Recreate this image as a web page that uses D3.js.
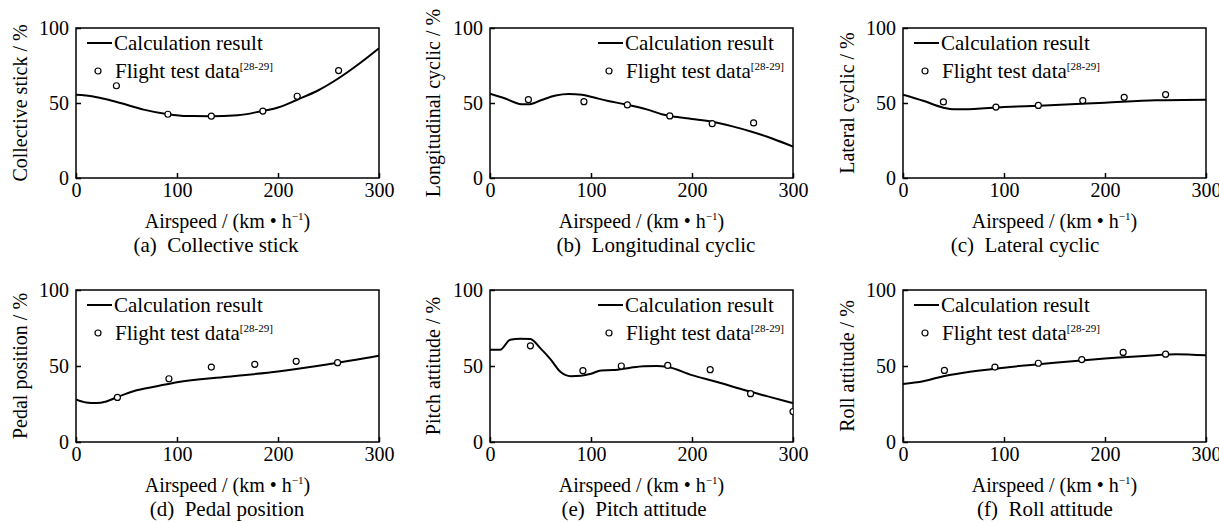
<!DOCTYPE html>
<html>
<head>
<meta charset="utf-8">
<script src="https://cdn.jsdelivr.net/npm/d3@7/dist/d3.min.js"></script>
<style>
  body { margin: 0; background: #fff; }
  svg { display: block; }
  svg text { font-family: "Liberation Serif", "Times New Roman", serif; fill: #000; }
</style>
</head>
<body>
<div id="chart"></div>
<script>
// Tick values shared by all six panels
const xTicks = [0, 100, 200, 300];
const yTicks = [0, 50, 100];

const panelCaptions = ["(a)  Collective stick", "(b)  Longitudinal cyclic", "(c)  Lateral cyclic",
                       "(d)  Pedal position", "(e)  Pitch attitude", "(f)  Roll attitude"];
const yTitles = ["Collective stick / %", "Longitudinal cyclic / %", "Lateral cyclic / %",
                 "Pedal position / %", "Pitch attitude / %", "Roll attitude / %"];

// Calculation result curves, [airspeed km/h, %]
const calcCollective = [[0,55.5],[17,54.4],[30,52.5],[44,50],[67,45.6],[91,42.5],[110,41.3],[133,41.2],
  [160,41.8],[183,44.5],[200,47],[220,52.5],[240,58.5],[260,66.5],[280,76],[300,86.5]];
const calcLongitudinal = [[0,56.2],[15,53],[31,49.2],[38,49.1],[51,52],[65,55],[78,56],[91,55.5],[101,54],
  [117,51.3],[135,49],[156,45.6],[170,42.5],[180,41.2],[200,39.4],[220,37.5],[240,34.4],[260,30.7],[280,26.2],[300,21]];
const calcLateral = [[0,55.6],[20,51.5],[40,46.9],[50,45.8],[60,45.8],[100,47.3],[135,48.2],[200,50.2],
  [250,51.8],[300,52.2]];
const calcPedal = [[0,28],[10,26],[20,25.6],[30,26.7],[40,29.3],[60,34],[80,36.7],[100,39.3],[150,42.9],
  [200,46.4],[250,51.1],[300,56.7]];
const calcPitch = [[0,60.7],[10,60.7],[20,67.3],[30,68],[40,67.8],[50,61.6],[60,54.4],[70,46],[80,43.3],
  [90,43.6],[100,44.9],[110,47.1],[122,47.3],[139,48.9],[152,49.8],[165,50],[175,49.5],[200,44],
  [225,39.5],[250,34.5],[275,30],[300,25.6]];
const calcRoll = [[0,38.2],[20,40],[40,43.3],[60,45.6],[100,48.9],[150,52.2],[200,54.9],[250,57.1],
  [270,57.8],[300,57]];

// Flight test data points
const testCollective = [[40,61.5],[91,42.5],[134,41.2],[185,44.6],[219,54.5],[260,71.6]];
const testLongitudinal = [[38,52.2],[93,50.9],[136,48.7],[178,41.4],[220,36.2],[261,36.7]];
const testLateral = [[40,50.7],[92,47.3],[134,48.4],[178,51.6],[219,53.8],[260,55.6]];
const testPedal = [[41,29.3],[92,41.6],[134,49.3],[177,51.1],[218,53.1],[259,52.2]];
const testPitch = [[40,63.3],[92,46.9],[130,50],[176,50.4],[218,47.6],[258,31.8],[300,20]];
const testRoll = [[41,47.1],[91,49.3],[134,51.8],[177,54.2],[218,58.9],[260,57.8]];

const calcSeries = [calcCollective, calcLongitudinal, calcLateral, calcPedal, calcPitch, calcRoll];
const testSeries = [testCollective, testLongitudinal, testLateral, testPedal, testPitch, testRoll];

// Layout of the panels (pixels)
const W = 1219, H = 523;
const colLeft = [76, 490, 903];
const rowTop = [28, 290];
const rowHeight = [150, 152];
const plotW = 303;
const yTitleX = [20, 433, 847];
const captionX = [216, 656, 1025, 227, 634, 1045];
const legendRight = [false, true, false, false, true, false];

const svg = d3.select("#chart").append("svg")
  .attr("width", W)
  .attr("height", H);

calcSeries.forEach((calc, i) => {
  const col = i % 3, row = Math.floor(i / 3);
  const left = colLeft[col], top = rowTop[row], h = rowHeight[row];

  const x = d3.scaleLinear().domain([0, 300]).range([0, plotW]);
  const y = d3.scaleLinear().domain([0, 100]).range([h, 0]);

  const g = svg.append("g").attr("transform", `translate(${left},${top})`);

  // clip so points on the edge are cut like the original
  g.append("clipPath").attr("id", "clip" + i)
    .append("rect").attr("width", plotW).attr("height", h);

  // X axis (ticks inward)
  const xa = g.append("g")
    .attr("transform", `translate(0,${h})`)
    .call(d3.axisBottom(x).tickValues(xTicks).tickSizeInner(-5).tickSizeOuter(0).tickPadding(5));
  xa.select(".domain").remove();
  xa.selectAll("line").attr("stroke", "#000").attr("stroke-width", 1.5);
  xa.selectAll("text").style("font-size", "20px");

  // Y axis
  const ya = g.append("g")
    .call(d3.axisLeft(y).tickValues(yTicks).tickSizeInner(-5).tickSizeOuter(0).tickPadding(7));
  ya.select(".domain").remove();
  ya.selectAll("line").attr("stroke", "#000").attr("stroke-width", 1.5);
  ya.selectAll("text").style("font-size", "20px");

  // Frame
  g.append("rect")
    .attr("width", plotW)
    .attr("height", h)
    .attr("fill", "none")
    .attr("stroke", "#000")
    .attr("stroke-width", 1.5);

  // Calculation curve
  const line = d3.line()
    .x(d => x(d[0]))
    .y(d => y(d[1]))
    .curve(d3.curveMonotoneX);

  g.append("path")
    .datum(calc)
    .attr("clip-path", `url(#clip${i})`)
    .attr("d", line)
    .attr("fill", "none")
    .attr("stroke", "#000")
    .attr("stroke-width", 2);

  // Flight test points
  g.append("g")
    .attr("clip-path", `url(#clip${i})`)
    .selectAll("circle")
    .data(testSeries[i])
    .enter()
    .append("circle")
    .attr("cx", d => x(d[0]))
    .attr("cy", d => y(d[1]))
    .attr("r", 3)
    .attr("fill", "#fff")
    .attr("stroke", "#000")
    .attr("stroke-width", 1.2);

  // Legend
  const lx = legendRight[i] ? 108 : 11;
  const leg = g.append("g").attr("transform", `translate(${lx},15)`);
  leg.append("line")
    .attr("x1", 0).attr("x2", 25)
    .attr("y1", 0).attr("y2", 0)
    .attr("stroke", "#000")
    .attr("stroke-width", 2);
  leg.append("text")
    .attr("x", 27).attr("y", 7)
    .style("font-size", "21px")
    .text("Calculation result");
  leg.append("circle")
    .attr("cx", 11).attr("cy", 28)
    .attr("r", 3)
    .attr("fill", "#fff")
    .attr("stroke", "#000")
    .attr("stroke-width", 1.2);
  const t2 = leg.append("text")
    .attr("x", 28).attr("y", 35)
    .style("font-size", "21px");
  t2.append("tspan").text("Flight test data");
  t2.append("tspan").attr("dy", -8).style("font-size", "11px").text("[28-29]");

  // X axis title
  const xt = g.append("text")
    .attr("x", plotW / 2)
    .attr("y", h + 50)
    .attr("text-anchor", "middle")
    .style("font-size", "20px");
  xt.append("tspan").text("Airspeed / (km \u2022 h");
  xt.append("tspan").attr("dy", -8).style("font-size", "11px").text("\u22121");
  xt.append("tspan").attr("dy", 8).text(")");

  // Y axis title
  svg.append("text")
    .attr("transform", `translate(${yTitleX[col]},${top + h / 2}) rotate(-90)`)
    .attr("text-anchor", "middle")
    .attr("dy", "0.35em")
    .style("font-size", "20px")
    .text(yTitles[i]);

  // Caption
  svg.append("text")
    .attr("x", captionX[i])
    .attr("y", top + h + 74)
    .attr("text-anchor", "middle")
    .attr("xml:space", "preserve")
    .style("white-space", "pre")
    .style("font-size", "21px")
    .text(panelCaptions[i]);
});
</script>
</body>
</html>
